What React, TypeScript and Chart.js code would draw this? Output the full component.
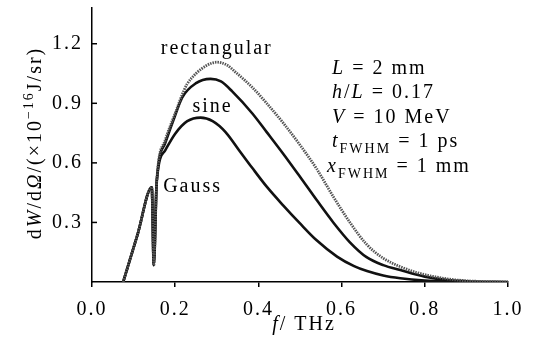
import { useEffect, useRef } from 'react';
import { Chart, registerables } from 'chart.js';

Chart.register(...registerables);

const FONT = '"Liberation Serif", "Times New Roman", serif';

// ---- data ----
const rectFreq = [0.075, 0.11, 0.1437, 0.1485, 0.1557, 0.176, 0.2, 0.221, 0.229, 0.25, 0.275, 0.3, 0.325, 0.345, 0.385, 0.42, 0.46, 0.5, 0.54, 0.58, 0.62, 0.66, 0.7, 0.74, 0.78, 0.82, 0.86, 0.9, 0.95, 1.0];
const rectVal = [0, 0.243, 0.477, 0.085, 0.51, 0.714, 0.85, 0.965, 0.998, 1.05, 1.09, 1.107, 1.092, 1.057, 0.981, 0.9, 0.8, 0.69, 0.57, 0.43, 0.3, 0.19, 0.12, 0.078, 0.048, 0.028, 0.014, 0.006, 0.002, 0];

const sineFreq = [0.075, 0.11, 0.1437, 0.1485, 0.1557, 0.176, 0.2, 0.217, 0.249, 0.285, 0.31, 0.337, 0.385, 0.42, 0.46, 0.5, 0.541, 0.58, 0.62, 0.66, 0.7, 0.741, 0.8, 0.86, 0.92, 1.0];
const sineVal = [0, 0.243, 0.477, 0.085, 0.51, 0.7, 0.84, 0.93, 1.0, 1.023, 1.01, 0.96, 0.85, 0.755, 0.645, 0.53, 0.41, 0.3, 0.2, 0.125, 0.085, 0.06, 0.027, 0.008, 0.002, 0];

const gaussFreq = [0.075, 0.11, 0.1437, 0.1485, 0.1557, 0.176, 0.2, 0.229, 0.261, 0.29, 0.321, 0.353, 0.385, 0.42, 0.46, 0.5, 0.54, 0.589, 0.63, 0.661, 0.7, 0.741, 0.8, 0.85, 0.9];
const gaussVal = [0, 0.243, 0.477, 0.085, 0.51, 0.663, 0.747, 0.81, 0.828, 0.81, 0.755, 0.665, 0.575, 0.48, 0.385, 0.295, 0.21, 0.128, 0.08, 0.055, 0.033, 0.019, 0.007, 0.002, 0];

const xTickLabels = ['0.0', '0.2', '0.4', '0.6', '0.8', '1.0'];
const yTickLabels = ['0.3', '0.6', '0.9', '1.2'];

type Seg = { t: string; it?: boolean; sub?: boolean; sup?: boolean };

const yTitle: Seg[] = [
  { t: 'd' }, { t: 'W', it: true }, { t: '/d' }, { t: 'Ω', it: true },
  { t: '/(×10' }, { t: '−16', sup: true }, { t: 'J/sr)' },
];
const xTitle: Seg[] = [{ t: 'f', it: true }, { t: '/ THz' }];

const curveLabels = [
  { text: 'rectangular', f: 0.3, v: 1.15, align: 'center' },
  { text: 'sine', f: 0.29, v: 0.854, align: 'center' },
  { text: 'Gauss', f: 0.171, v: 0.454, align: 'left' },
];

const paramLines: Seg[][] = [
  [{ t: 'L', it: true }, { t: ' = 2 mm' }],
  [{ t: 'h', it: true }, { t: '/' }, { t: 'L', it: true }, { t: ' = 0.17' }],
  [{ t: 'V', it: true }, { t: ' = 10 MeV' }],
  [{ t: 't', it: true }, { t: 'FWHM', sub: true }, { t: ' = 1 ps' }],
  [{ t: 'x', it: true }, { t: 'FWHM', sub: true }, { t: ' = 1 mm' }],
];
const paramFreq = [0.577, 0.577, 0.577, 0.577, 0.565];
const paramVal = [1.05, 0.925, 0.8, 0.678, 0.553];

const zip = (xs: number[], ys: number[]) => xs.map((x, i) => ({ x, y: ys[i] }));

function drawRich(ctx: CanvasRenderingContext2D, segs: Seg[], x: number, y: number, size: number, align: string) {
  const fontOf = (s: Seg) => `${s.it ? 'italic ' : ''}${s.sub || s.sup ? Math.round(size * 0.68) : size}px ${FONT}`;
  let total = 0;
  const widths = segs.map((s) => {
    ctx.font = fontOf(s);
    const w = ctx.measureText(s.t).width;
    total += w;
    return w;
  });
  let cx = align === 'center' ? x - total / 2 : align === 'right' ? x - total : x;
  ctx.textAlign = 'left';
  ctx.textBaseline = 'alphabetic';
  segs.forEach((s, i) => {
    ctx.font = fontOf(s);
    const dy = s.sub ? size * 0.28 : s.sup ? -size * 0.42 : 0;
    ctx.fillText(s.t, cx, y + dy);
    cx += widths[i];
  });
}

const decor = {
  id: 'decor',
  beforeUpdate(chart: any) { (chart.ctx as any).letterSpacing = '2px'; },
  beforeDraw(chart: any) { (chart.ctx as any).letterSpacing = '2px'; },
  afterDraw(chart: any) {
    const ctx: CanvasRenderingContext2D = chart.ctx;
    const { x, y } = chart.scales;
    const area = chart.chartArea;
    ctx.save();
    (ctx as any).letterSpacing = '2px';
    ctx.strokeStyle = '#000';
    ctx.lineWidth = 1.5;
    y.ticks.forEach((t: any) => {
      if (t.value <= 1e-9) return;
      const py = y.getPixelForValue(t.value);
      ctx.beginPath();
      ctx.moveTo(area.left, py);
      ctx.lineTo(area.left + 5, py);
      ctx.stroke();
    });
    ctx.fillStyle = '#000';
    curveLabels.forEach((l) => {
      drawRich(ctx, [{ t: l.text }], x.getPixelForValue(l.f), y.getPixelForValue(l.v), 20, l.align);
    });
    paramLines.forEach((segs, i) => {
      drawRich(ctx, segs, x.getPixelForValue(paramFreq[i]), y.getPixelForValue(paramVal[i]), 20, 'left');
    });
    drawRich(ctx, xTitle, (area.left + area.right) / 2 + 4, 330, 20, 'center');
    ctx.save();
    ctx.translate(41, (area.top + area.bottom) / 2 - 2);
    ctx.rotate(-Math.PI / 2);
    drawRich(ctx, yTitle, 0, 0, 20, 'center');
    ctx.restore();
    ctx.restore();
  },
};

export default function App() {
  const ref = useRef<HTMLCanvasElement>(null);
  useEffect(() => {
    const common = { fill: false, pointRadius: 0, cubicInterpolationMode: 'monotone' as const };
    const chart = new Chart(ref.current!, {
      type: 'line',
      data: {
        datasets: [
          { ...common, label: 'rectangular', data: zip(rectFreq, rectVal), borderColor: '#555', borderWidth: 2.8, borderDash: [1.5, 1] },
          { ...common, label: 'sine', data: zip(sineFreq, sineVal), borderColor: '#111', borderWidth: 2.6 },
          { ...common, label: 'Gauss', data: zip(gaussFreq, gaussVal), borderColor: '#111', borderWidth: 2.6 },
        ],
      },
      options: {
        animation: false,
        responsive: false,
        devicePixelRatio: 1,
        layout: { padding: { left: 0, top: 8, right: 28, bottom: 0 } },
        plugins: { legend: { display: false }, tooltip: { enabled: false } },
        scales: {
          x: {
            type: 'linear',
            min: 0,
            max: 1,
            afterFit: (s: any) => { s.height = 74; },
            grid: { display: true, drawOnChartArea: false, drawTicks: true, tickLength: 5, color: '#000', lineWidth: 1.5 },
            border: { display: true, color: '#000', width: 1.5 },
            ticks: {
              stepSize: 0.2,
              padding: 11,
              color: '#000',
              font: { family: FONT, size: 20 },
              maxRotation: 0,
              callback: (v: any) => xTickLabels[Math.round(Number(v) / 0.2)] ?? '',
            },
          },
          y: {
            type: 'linear',
            min: 0,
            max: 1.38,
            afterFit: (s: any) => { s.width = 92; s.paddingTop = 0; s.paddingBottom = 0; },
            grid: { display: false, drawTicks: false },
            border: { display: true, color: '#000', width: 1.5 },
            ticks: {
              stepSize: 0.3,
              includeBounds: false,
              padding: 9,
              color: '#000',
              font: { family: FONT, size: 20 },
              callback: (v: any) => {
                const i = Math.round(Number(v) / 0.3) - 1;
                return i >= 0 ? yTickLabels[i] ?? '' : '';
              },
            },
          },
        },
      },
      plugins: [decor],
    } as any);
    return () => chart.destroy();
  }, []);
  return (
    <div style={{ position: 'fixed', left: 0, top: 0, width: 536, height: 356, background: '#fff' }}>
      <canvas ref={ref} width={536} height={356} style={{ display: 'block', width: 536, height: 356 }} />
    </div>
  );
}
